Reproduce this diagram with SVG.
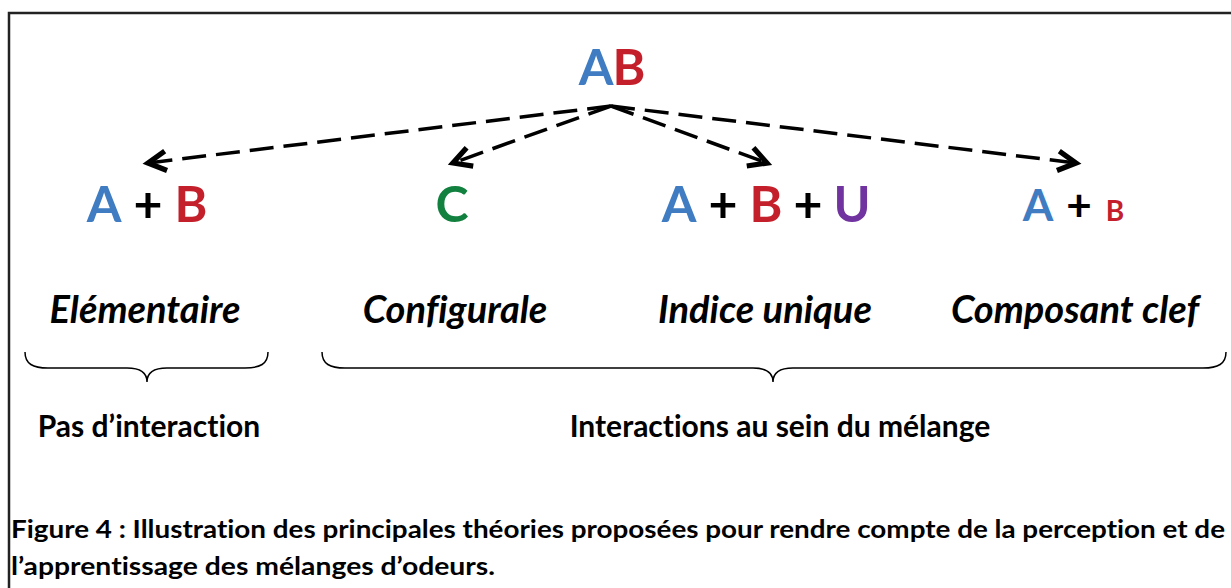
<svg xmlns="http://www.w3.org/2000/svg" width="1231" height="588" viewBox="0 0 1231 588">
<style>
text{font-variant-ligatures:none;font-feature-settings:"liga" 0}
.big{font-family:Lato,"Liberation Sans",sans-serif;font-weight:bold;font-size:50px;text-anchor:middle}
.blue{fill:#3F7CC2}.red{fill:#C3202B}.green{fill:#12803E}.purple{fill:#7033A0}.blk{fill:#000}
.lab{font-family:Lato,"Liberation Sans",sans-serif;font-weight:bold;font-style:italic;font-size:38px;text-anchor:middle;fill:#000}
.grp{font-family:Lato,"Liberation Sans",sans-serif;font-weight:bold;font-size:30px;text-anchor:middle;fill:#000}
.cap{font-family:Lato,"Liberation Sans",sans-serif;font-weight:bold;font-size:25px;fill:#000}
.arr{fill:none;stroke:#000;stroke-width:3.5;stroke-dasharray:24 10;marker-end:url(#v)}
.brace{fill:none;stroke:#000;stroke-width:1.5}
</style>
<defs>
<marker id="v" markerUnits="userSpaceOnUse" markerWidth="30" markerHeight="30" refX="0" refY="0" viewBox="-16 -10 20 20" orient="auto">
<path d="M-12,-6.5 L0,0 L-12,6.5" fill="none" stroke="#000" stroke-width="3.5"/>
</marker>
</defs>
<rect x="9" y="13" width="1240" height="600" fill="#fff" stroke="#222" stroke-width="2.5"/>
<g id="node-AB">
<text class="big blue" x="596" y="85">A</text>
<text class="big red" x="629" y="85">B</text>
</g>
<g id="node-elementaire">
<text class="big blue" x="104" y="222">A</text>
<text class="big blk" x="148" y="222">+</text>
<text class="big red" x="191" y="222">B</text>
</g>
<g id="node-configurale">
<text class="big green" x="452" y="222">C</text>
</g>
<g id="node-indice">
<text class="big blue" x="679" y="222">A</text>
<text class="big blk" x="723" y="222">+</text>
<text class="big red" x="766" y="222">B</text>
<text class="big blk" x="808" y="222">+</text>
<text class="big purple" x="852" y="222">U</text>
</g>
<g id="node-clef">
<text class="big blue" x="1038" y="221" style="font-size:44px">A</text>
<text class="big blk" x="1079" y="221" style="font-size:44px">+</text>
<text class="big red" x="1115" y="221" style="font-size:28px">B</text>
</g>
<g id="connectors">
<path class="arr" d="M611,106 L148,163"/>
<path class="arr" d="M611,106 L453,163"/>
<path class="arr" d="M611,106 L767,163"/>
<path class="arr" d="M611,106 L1076,163"/>
</g>
<g id="labels">
<text class="lab" x="145" y="323">Elémentaire</text>
<text class="lab" x="455" y="323">Configurale</text>
<text class="lab" x="765" y="323">Indice unique</text>
<text class="lab" x="1075" y="323">Composant clef</text>
</g>
<g id="braces">
<path class="brace" d="M25,352 C25,364 33,368 48,368 L127,368 C140,368 147,373 147,382 C147,373 154,368 167,368 L245,368 C260,368 268,364 268,352"/>
<path class="brace" d="M322,352 C322,364 330,368 345,368 L753,368 C766,368 773,373 773,382 C773,373 780,368 793,368 L1203,368 C1218,368 1226,364 1226,352"/>
</g>
<g id="groups">
<text class="grp" x="149" y="437">Pas d’interaction</text>
<text class="grp" x="780" y="437">Interactions au sein du mélange</text>
</g>
<g id="caption">
<text class="cap" x="11" y="538" textLength="1214" lengthAdjust="spacingAndGlyphs">Figure 4 : Illustration des principales théories proposées pour rendre compte de la perception et de</text>
<text class="cap" x="11" y="575" textLength="484" lengthAdjust="spacingAndGlyphs">l’apprentissage des mélanges d’odeurs.</text>
</g>
</svg>
